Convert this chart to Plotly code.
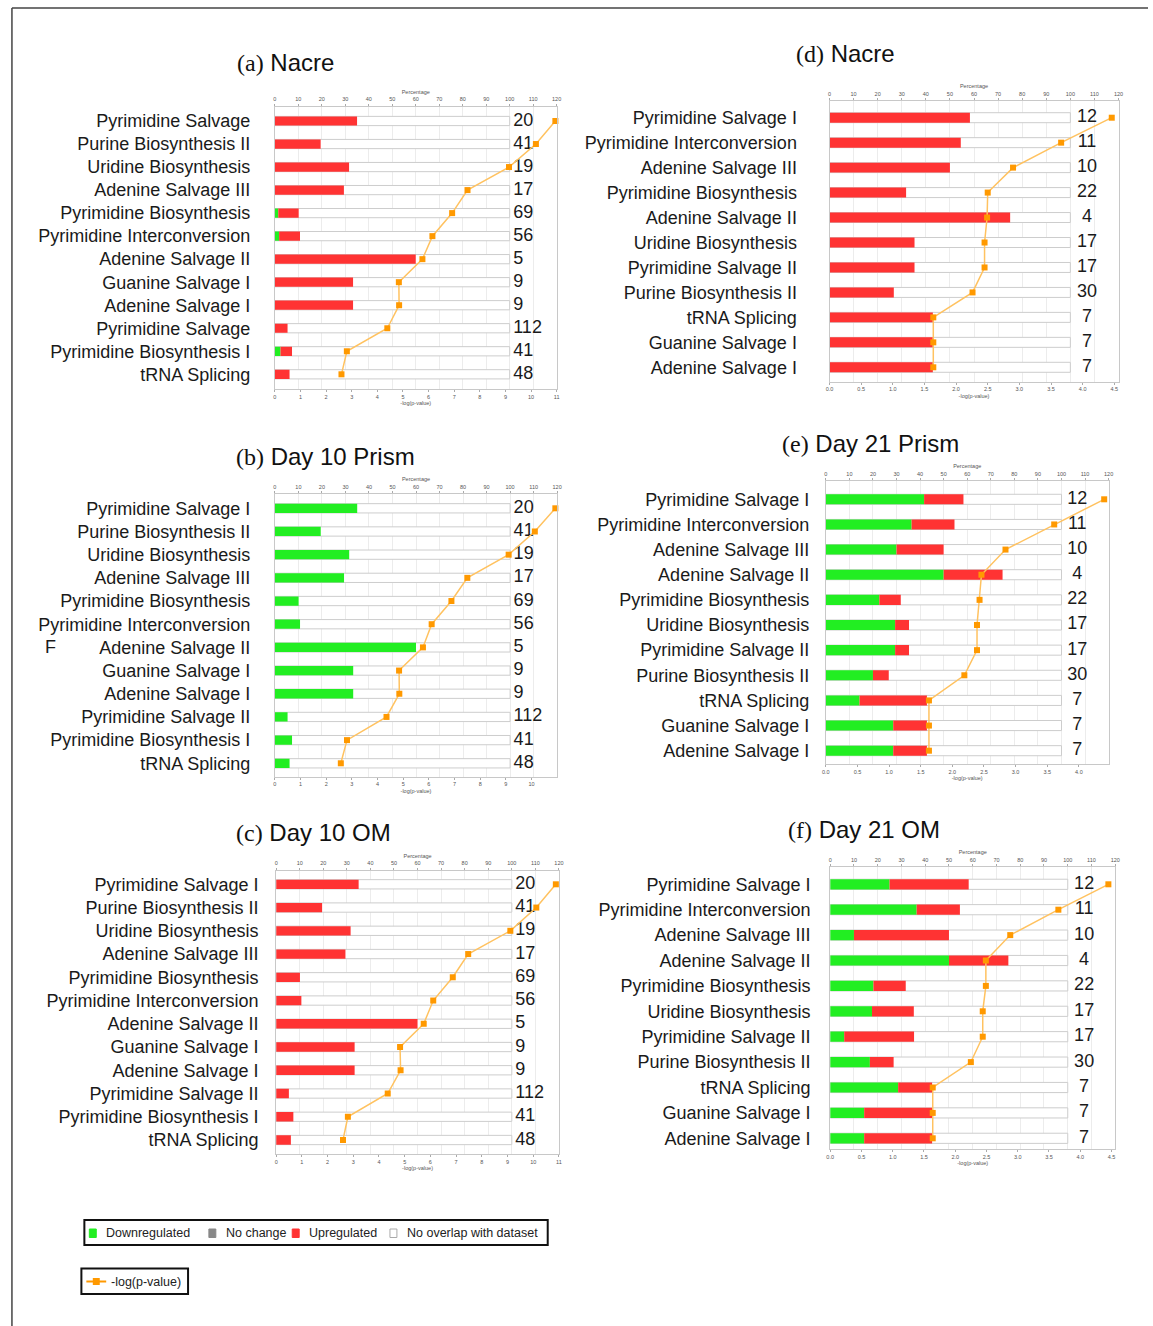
import plotly.graph_objects as go

W, H = 1153, 1326

# ---------------- data ----------------
cats_a = ["Pyrimidine Salvage", "Purine Biosynthesis II", "Uridine Biosynthesis", "Adenine Salvage III",
          "Pyrimidine Biosynthesis", "Pyrimidine Interconversion", "Adenine Salvage II", "Guanine Salvage I",
          "Adenine Salvage I", "Pyrimidine Salvage", "Pyrimidine Biosynthesis I", "tRNA Splicing"]
cats_bc = ["Pyrimidine Salvage I", "Purine Biosynthesis II", "Uridine Biosynthesis", "Adenine Salvage III",
           "Pyrimidine Biosynthesis", "Pyrimidine Interconversion", "Adenine Salvage II", "Guanine Salvage I",
           "Adenine Salvage I", "Pyrimidine Salvage II", "Pyrimidine Biosynthesis I", "tRNA Splicing"]
cats_d = ["Pyrimidine Salvage I", "Pyrimidine Interconversion", "Adenine Salvage III", "Pyrimidine Biosynthesis",
          "Adenine Salvage II", "Uridine Biosynthesis", "Pyrimidine Salvage II", "Purine Biosynthesis II",
          "tRNA Splicing", "Guanine Salvage I", "Adenine Salvage I"]
cats_ef = ["Pyrimidine Salvage I", "Pyrimidine Interconversion", "Adenine Salvage III", "Adenine Salvage II",
           "Pyrimidine Biosynthesis", "Uridine Biosynthesis", "Pyrimidine Salvage II", "Purine Biosynthesis II",
           "tRNA Splicing", "Guanine Salvage I", "Adenine Salvage I"]

counts_abc = [20, 41, 19, 17, 69, 56, 5, 9, 9, 112, 41, 48]
counts_d = [12, 11, 10, 22, 4, 17, 17, 30, 7, 7, 7]
counts_ef = [12, 11, 10, 4, 22, 17, 17, 30, 7, 7, 7]

down_a = [0, 0, 0, 0, 1.45, 1.8, 0, 0, 0, 0, 2.4, 0]
up_a = [35, 19.5, 31.6, 29.4, 8.7, 8.9, 60, 33.3, 33.3, 5.4, 4.9, 6.25]
logp_a = [10.95, 10.19, 9.14, 7.52, 6.92, 6.15, 5.76, 4.84, 4.85, 4.39, 2.81, 2.60]

down_b = [35, 19.5, 31.6, 29.4, 10.1, 10.7, 60, 33.3, 33.3, 5.4, 7.3, 6.25]
up_b = [0] * 12
logp_b = [10.93, 10.13, 9.11, 7.50, 6.88, 6.11, 5.77, 4.84, 4.85, 4.35, 2.81, 2.57]

down_c = [0] * 12
up_c = [35, 19.5, 31.6, 29.4, 10.1, 10.7, 60, 33.3, 33.3, 5.4, 7.3, 6.25]
logp_c = [10.88, 10.12, 9.11, 7.47, 6.87, 6.11, 5.74, 4.82, 4.84, 4.34, 2.79, 2.60]

down_d = [0] * 11
up_d = [58.3, 54.5, 50, 31.8, 75, 35.3, 35.3, 26.7, 42.9, 42.9, 42.9]
logp_d = [4.46, 3.66, 2.90, 2.50, 2.49, 2.45, 2.45, 2.26, 1.64, 1.64, 1.64]

down_e = [41.7, 36.4, 30, 50, 22.7, 29.4, 29.4, 20, 14.3, 28.6, 28.6]
up_e = [16.7, 18.2, 20, 25, 9.1, 5.9, 5.9, 6.7, 28.6, 14.3, 14.3]
logp_e = [4.40, 3.61, 2.84, 2.46, 2.43, 2.39, 2.39, 2.19, 1.63, 1.63, 1.63]

down_f = [25, 36.4, 10, 50, 18.2, 17.6, 5.9, 16.7, 28.6, 14.3, 14.3]
up_f = [33.3, 18.2, 40, 25, 13.6, 17.6, 29.4, 10, 14.3, 28.6, 28.6]
logp_f = [4.45, 3.65, 2.88, 2.49, 2.49, 2.44, 2.44, 2.25, 1.64, 1.64, 1.64]

pct_ticks = list(range(0, 121, 10))
logp_ticks_a = list(range(0, 12))
logp_ticks_b = list(range(0, 11))
logp_ticks_d = [0, 0.5, 1, 1.5, 2, 2.5, 3, 3.5, 4, 4.5]
logp_ticks_e = [0, 0.5, 1, 1.5, 2, 2.5, 3, 3.5, 4]

# ---------------- layout geometry (pixels) ----------------
panels = [
    dict(cats=cats_a, counts=counts_abc, down=down_a, up=up_a, logp=logp_a, lab="(a)", name="Nacre",
         tx=233, ty=62, x0=273, x1=557, T=106.5, B=389, c1=121, cn=374.3, lmax=11, lticks=logp_ticks_a,
         lfmt="d", stand=20, cx=101.5, cpos="middle right"),
    dict(cats=cats_bc, counts=counts_abc, down=down_b, up=up_b, logp=logp_b, lab="(b)", name="Day 10 Prism",
         tx=232, ty=456, x0=273, x1=557.5, T=494, B=776.7, c1=508.3, cn=763.3, lmax=11, lticks=logp_ticks_b,
         lfmt="d", stand=20, cx=101.5, cpos="middle right"),
    dict(cats=cats_bc, counts=counts_abc, down=down_c, up=up_c, logp=logp_c, lab="(c)", name="Day 10 OM",
         tx=232, ty=832, x0=274.3, x1=559.3, T=870.5, B=1154, c1=884.3, cn=1140, lmax=11, lticks=logp_ticks_a,
         lfmt="d", stand=13, cx=101.5, cpos="middle right"),
    dict(cats=cats_d, counts=counts_d, down=down_d, up=up_d, logp=logp_d, lab="(d)", name="Nacre",
         tx=796, ty=54, x0=832, x1=1123.3, T=100.7, B=381.7, c1=117.7, cn=367.3, lmax=4.567, lticks=logp_ticks_d,
         lfmt=".1f", stand=28, cx=106.9, cpos="middle center"),
    dict(cats=cats_ef, counts=counts_ef, down=down_e, up=up_e, logp=logp_e, lab="(e)", name="Day 21 Prism",
         tx=782, ty=444, x0=828.3, x1=1113.3, T=480.7, B=764, c1=499.3, cn=750.7, lmax=4.47, lticks=logp_ticks_e,
         lfmt=".1f", stand=12, cx=106.7, cpos="middle center"),
    dict(cats=cats_ef, counts=counts_ef, down=down_f, up=up_f, logp=logp_f, lab="(f)", name="Day 21 OM",
         tx=788, ty=829, x0=832.7, x1=1120, T=867, B=1149, c1=884.3, cn=1138.3, lmax=4.56, lticks=logp_ticks_d,
         lfmt=".1f", stand=15, cx=106.9, cpos="middle center"),
]

SANS = "Liberation Sans, Arial, sans-serif"
SERIF = "Liberation Serif, Times New Roman, serif"
RED = "#FF3333"
GREEN = "#22EE22"
ORANGE = "#FF9900"
ORANGE_LINE = "#FFC260"

def px(x):
    return x / W

def py(y):
    return 1 - y / H

fig = go.Figure()
layout = dict(width=W, height=H, margin=dict(l=0, r=0, t=0, b=0), paper_bgcolor="white",
              plot_bgcolor="white", showlegend=False, barmode="overlay",
              font=dict(family=SANS, color="#222"))
annotations = []
shapes = []

for i, p in enumerate(panels):
    n = len(p["cats"])
    xa = 2 * i + 1
    xb = 2 * i + 2
    ya = i + 1
    xa_ref = "x" if xa == 1 else f"x{xa}"
    xb_ref = f"x{xb}"
    ya_ref = "y" if ya == 1 else f"y{ya}"
    ys = list(range(n))
    white = [100] * n

    fig.add_trace(go.Bar(y=ys, x=white, base=[0] * n, orientation="h", width=0.4,
                         marker=dict(color="white", line=dict(color="#cdcdcd", width=1)),
                         xaxis=xa_ref, yaxis=ya_ref, hoverinfo="skip"))
    fig.add_trace(go.Bar(y=ys, x=p["down"], base=[0] * n, orientation="h", width=0.4,
                         marker=dict(color=GREEN, line=dict(width=0)),
                         xaxis=xa_ref, yaxis=ya_ref))
    fig.add_trace(go.Bar(y=ys, x=p["up"], base=p["down"], orientation="h", width=0.4,
                         marker=dict(color=RED, line=dict(width=0)),
                         xaxis=xa_ref, yaxis=ya_ref))
    fig.add_trace(go.Scatter(y=ys, x=[p["cx"]] * n, mode="text", text=[str(c) for c in p["counts"]],
                             textposition=p["cpos"], textfont=dict(size=18, color="#1a1a1a", family=SANS),
                             cliponaxis=False, xaxis=xa_ref, yaxis=ya_ref, hoverinfo="skip"))
    fig.add_trace(go.Scatter(y=ys, x=p["logp"], mode="lines+markers",
                             line=dict(color=ORANGE_LINE, width=1.5),
                             marker=dict(symbol="square", size=6, color=ORANGE),
                             cliponaxis=False, xaxis=xb_ref, yaxis=ya_ref))

    s = (p["cn"] - p["c1"]) / (n - 1)
    pad_top = (p["c1"] - p["T"]) / s
    pad_bot = (p["B"] - p["cn"]) / s

    ykey = "yaxis" if ya == 1 else f"yaxis{ya}"
    layout[ykey] = dict(domain=[py(p["B"]), py(p["T"])], anchor=xa_ref,
                        range=[n - 1 + pad_bot, -pad_top], tickvals=ys, ticktext=p["cats"],
                        tickfont=dict(size=18, family=SANS, color="#1a1a1a"), ticks="",
                        ticklabelstandoff=p["stand"], showgrid=False, zeroline=False,
                        showline=True, mirror=True, linecolor="#c8c8c8", linewidth=1)
    xakey = "xaxis" if xa == 1 else f"xaxis{xa}"
    layout[xakey] = dict(domain=[px(p["x0"]), px(p["x1"])], anchor=ya_ref, side="top",
                         range=[0, 120], tickvals=pct_ticks, tickfont=dict(size=5.5, color="#555"),
                         ticks="outside", ticklen=2, tickcolor="#aaa",
                         title=dict(text="Percentage", font=dict(size=5.5, color="#555"), standoff=1),
                         showgrid=True, gridcolor="#ececec", zeroline=False,
                         showline=True, linecolor="#c8c8c8", linewidth=1)
    layout[f"xaxis{xb}"] = dict(domain=[px(p["x0"]), px(p["x1"])], anchor=ya_ref, side="bottom",
                                overlaying=xa_ref, range=[0, p["lmax"]], tickvals=p["lticks"],
                                tickformat=p["lfmt"], tickfont=dict(size=5.5, color="#555"),
                                ticks="outside", ticklen=2, tickcolor="#aaa",
                                title=dict(text="-log(p-value)", font=dict(size=5.5, color="#555"), standoff=2),
                                showgrid=False, zeroline=False,
                                showline=True, linecolor="#c8c8c8", linewidth=1)

    annotations.append(dict(xref="paper", yref="paper", x=px(p["tx"]), y=py(p["ty"]),
                            xanchor="left", yanchor="middle", showarrow=False,
                            text=f'<span style="font-family:{SERIF}">{p["lab"]}</span> {p["name"]}',
                            font=dict(size=24, family=SANS, color="#111")))

# stray character visible at left of panel (b)
annotations.append(dict(xref="paper", yref="paper", x=px(39), y=py(647), xanchor="left", yanchor="middle",
                        showarrow=False, text="F", font=dict(size=18, family=SANS, color="#1a1a1a")))

# outer frame
shapes.append(dict(type="line", xref="paper", yref="paper", x0=px(8), x1=1, y0=py(8), y1=py(8),
                   line=dict(color="#444", width=1.5)))
shapes.append(dict(type="line", xref="paper", yref="paper", x0=px(8), x1=px(8), y0=py(8), y1=0,
                   line=dict(color="#444", width=1.5)))

# legend box 1
shapes.append(dict(type="rect", xref="paper", yref="paper", x0=px(81), x1=px(548), y0=py(1245), y1=py(1220),
                   line=dict(color="#111", width=2), fillcolor="white"))
leg_items = [("Downregulated", GREEN, GREEN, 86), ("No change", "#888888", "#888888", 206.5),
             ("Upregulated", RED, RED, 290.5), ("No overlap with dataset", "white", "#aaaaaa", 389)]
for label, fill, edge, lx in leg_items:
    shapes.append(dict(type="rect", xref="paper", yref="paper", x0=px(lx), x1=px(lx + 7),
                       y0=py(1237.5), y1=py(1229), line=dict(color=edge, width=1), fillcolor=fill))
    annotations.append(dict(xref="paper", yref="paper", x=px(lx + 15), y=py(1233), xanchor="left",
                            yanchor="middle", showarrow=False, text=label,
                            font=dict(size=12.5, family=SANS, color="#222")))

# legend box 2
shapes.append(dict(type="rect", xref="paper", yref="paper", x0=px(78), x1=px(185.5), y0=py(1294), y1=py(1268.5),
                   line=dict(color="#111", width=2), fillcolor="white"))
shapes.append(dict(type="line", xref="paper", yref="paper", x0=px(83), x1=px(103), y0=py(1281.5), y1=py(1281.5),
                   line=dict(color=ORANGE, width=2)))
shapes.append(dict(type="rect", xref="paper", yref="paper", x0=px(89.5), x1=px(96.5), y0=py(1285), y1=py(1278),
                   line=dict(color=ORANGE, width=0), fillcolor=ORANGE))
annotations.append(dict(xref="paper", yref="paper", x=px(106), y=py(1281.5), xanchor="left", yanchor="middle",
                        showarrow=False, text="-log(p-value)", font=dict(size=12.5, family=SANS, color="#222")))

layout["annotations"] = annotations
layout["shapes"] = shapes
fig.update_layout(**layout)

fig.write_html("out.html", config={"displayModeBar": False},
               post_script="document.body.style.margin='0';document.body.style.overflow='hidden';")
